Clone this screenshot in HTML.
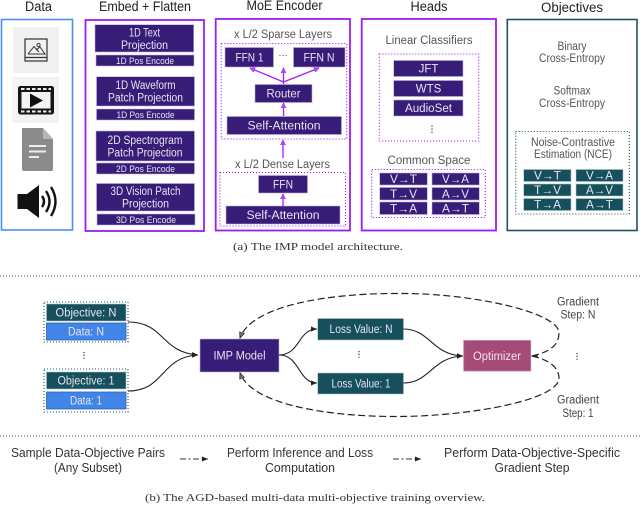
<!DOCTYPE html>
<html><head><meta charset="utf-8">
<style>
html,body{margin:0;padding:0;background:#fff;width:640px;height:508px;overflow:hidden}
svg{display:block}
text{font-family:"Liberation Sans",sans-serif;text-anchor:middle}
.t{font-size:13.5px;fill:#222}
.g{font-size:11.5px;fill:#555}
.w{font-size:11.5px;fill:#e8e4f2}
.s{font-size:9.5px;fill:#e8e4f2}
.k{font-size:12.5px;fill:#333}
.c{font-family:"Liberation Serif",serif;font-size:10.5px;fill:#333}
.p{fill:#371c78;stroke:#b9aed8;stroke-width:.6}
.e{fill:#15505c;stroke:#a9c3c7;stroke-width:.6}
.b{fill:#4285e8;stroke:#2a62b8;stroke-width:.8}
.dp{fill:none;stroke:#a020f0;stroke-width:1.1;stroke-dasharray:1.1 1.9}
.dt{fill:none;stroke:#1f5f6c;stroke-width:1.1;stroke-dasharray:1.1 1.9}
.pa{fill:none;stroke:#a51ff5;stroke-width:1.3}
.bl{fill:none;stroke:#222;stroke-width:1.1}
.da{fill:none;stroke:#222;stroke-width:1.2;stroke-dasharray:7 3.5}
</style></head><body>
<svg width="640" height="508" viewBox="0 0 640 508" xmlns="http://www.w3.org/2000/svg">
<defs>
<marker id="pm" markerWidth="6" markerHeight="6" refX="5" refY="3" orient="auto" markerUnits="userSpaceOnUse"><path d="M0,0.5L5,3L0,5.5z" fill="#b050f5" stroke="#a51ff5" stroke-width=".6"/></marker>
<marker id="bm" markerWidth="7" markerHeight="6" refX="6" refY="3" orient="auto" markerUnits="userSpaceOnUse"><path d="M0,0.5L6,3L0,5.5z" fill="#222"/></marker>
<marker id="om" markerWidth="7" markerHeight="6" refX="6" refY="3" orient="auto" markerUnits="userSpaceOnUse"><path d="M0,0.5L6,3L0,5.5z" fill="#777" stroke="#222" stroke-width=".8"/></marker>
</defs>

<!-- titles -->
<text class="t" x="38.5" y="11" textLength="27" lengthAdjust="spacingAndGlyphs">Data</text>
<text class="t" x="145" y="11" textLength="92" lengthAdjust="spacingAndGlyphs">Embed + Flatten</text>
<text class="t" x="284.5" y="10" textLength="76" lengthAdjust="spacingAndGlyphs">MoE Encoder</text>
<text class="t" x="429" y="11" textLength="37" lengthAdjust="spacingAndGlyphs">Heads</text>
<text class="t" x="572" y="12" textLength="62" lengthAdjust="spacingAndGlyphs">Objectives</text>

<!-- outer boxes -->
<rect x="1.5" y="19.5" width="71" height="210.5" fill="none" stroke="#4a8ff0" stroke-width="1.6"/>
<rect x="85.5" y="20" width="118.5" height="211" fill="none" stroke="#9a1ef0" stroke-width="1.8"/>
<rect x="215.7" y="19" width="134.3" height="211.5" fill="none" stroke="#9a1ef0" stroke-width="1.8"/>
<rect x="361.7" y="19" width="134.3" height="211.5" fill="none" stroke="#9a1ef0" stroke-width="1.8"/>
<rect x="507.3" y="19.5" width="129.7" height="211" fill="none" stroke="#1d5560" stroke-width="1.6"/>

<!-- data icons -->
<rect x="13" y="27" width="46" height="46" fill="#f1f1f1"/>
<rect x="25" y="39" width="22" height="22" fill="none" stroke="#333" stroke-width="1.2"/>
<path d="M25,57.5H47" stroke="#333" stroke-width="1.2"/>
<path d="M28,54L34,46.5L39,52M36,50L40,47L45,54H28" fill="none" stroke="#333" stroke-width="1"/>
<circle cx="38.5" cy="45" r="1.6" fill="none" stroke="#333" stroke-width=".9"/>
<rect x="12" y="77" width="47" height="46" fill="#f3f3f3"/>
<rect x="18" y="86" width="36" height="28.5" rx="2.5" fill="#151515"/>
<rect x="21.5" y="92" width="29" height="16.5" fill="#f3f3f3"/>
<path d="M21,89H51M21,111.5H51" stroke="#eee" stroke-width="2" stroke-dasharray="3.5 2"/>
<path d="M30,93.5L43,100.5L30,107.5z" fill="#111"/>
<path d="M22,128H43L53,139V169a2,2 0 0 1-2,2H24a2,2 0 0 1-2-2z" fill="#8b8b8b"/>
<path d="M43,128L53,139H43z" fill="#b5b5b5"/>
<path d="M29,146H46M29,151.5H46M29,157H39" stroke="#eee" stroke-width="2"/>
<path d="M17.5,194H27L39,185V218L27,209H17.5z" fill="#111"/>
<path d="M42,196Q46,201.5 42,207M46,191Q53,201.5 46,212M51,187Q60,201.5 51,216" fill="none" stroke="#111" stroke-width="2.4"/>

<!-- embed -->
<rect class="p" x="95" y="24.7" width="98.7" height="27.3"/>
<text class="w" x="144.5" y="36.5" textLength="31" lengthAdjust="spacingAndGlyphs">1D Text</text>
<text class="w" x="144.5" y="49" textLength="47" lengthAdjust="spacingAndGlyphs">Projection</text>
<rect class="p" x="96" y="55" width="98" height="11"/>
<text class="s" x="145" y="64" textLength="58" lengthAdjust="spacingAndGlyphs">1D Pos Encode</text>

<rect class="p" x="96.5" y="76.7" width="98" height="29.3"/>
<text class="w" x="145.5" y="89" textLength="60" lengthAdjust="spacingAndGlyphs">1D Waveform</text>
<text class="w" x="145.5" y="101.5" textLength="75" lengthAdjust="spacingAndGlyphs">Patch Projection</text>
<rect class="p" x="96.5" y="109" width="98" height="11"/>
<text class="s" x="145.5" y="118" textLength="58" lengthAdjust="spacingAndGlyphs">1D Pos Encode</text>

<rect class="p" x="96" y="131" width="98.5" height="30"/>
<text class="w" x="145" y="144" textLength="75" lengthAdjust="spacingAndGlyphs">2D Spectrogram</text>
<text class="w" x="145" y="156.5" textLength="75" lengthAdjust="spacingAndGlyphs">Patch Projection</text>
<rect class="p" x="96.5" y="163" width="98" height="11"/>
<text class="s" x="145.5" y="172" textLength="59" lengthAdjust="spacingAndGlyphs">2D Pos Encode</text>

<rect class="p" x="96.5" y="183.5" width="98" height="27.5"/>
<text class="w" x="145.5" y="195" textLength="70" lengthAdjust="spacingAndGlyphs">3D Vision Patch</text>
<text class="w" x="145.5" y="207.5" textLength="47" lengthAdjust="spacingAndGlyphs">Projection</text>
<rect class="p" x="97" y="214" width="98" height="11"/>
<text class="s" x="146" y="223" textLength="60" lengthAdjust="spacingAndGlyphs">3D Pos Encode</text>

<!-- MoE -->
<text class="g" x="283" y="38" textLength="98" lengthAdjust="spacingAndGlyphs">x L/2 Sparse Layers</text>
<rect class="dp" x="221.3" y="43.5" width="125.4" height="95.5"/>
<rect class="p" x="225" y="47.5" width="48.5" height="19.5"/>
<text class="w" x="249.5" y="61.5" textLength="28" lengthAdjust="spacingAndGlyphs">FFN 1</text>
<text class="k" x="283" y="58" style="font-size:9px">···</text>
<rect class="p" x="293.5" y="47.5" width="51.5" height="19.5"/>
<text class="w" x="319" y="61.5" textLength="31" lengthAdjust="spacingAndGlyphs">FFN N</text>
<rect class="p" x="255" y="84.5" width="57" height="18"/>
<text class="w" x="283.5" y="97.5" textLength="34" lengthAdjust="spacingAndGlyphs">Router</text>
<rect class="p" x="227" y="116.5" width="114.5" height="18"/>
<text class="w" x="284" y="129.5" textLength="73" lengthAdjust="spacingAndGlyphs">Self-Attention</text>
<path class="pa" d="M283.5,116V103" marker-end="url(#pm)"/>
<path class="pa" d="M283.5,84V68" marker-end="url(#pm)"/>
<path class="pa" d="M283.5,82L250,68" marker-end="url(#pm)"/>
<path class="pa" d="M283.5,82L319,68" marker-end="url(#pm)"/>
<path class="pa" d="M283,158V140" marker-end="url(#pm)"/>
<text class="g" x="282.5" y="168" textLength="95" lengthAdjust="spacingAndGlyphs">x L/2 Dense Layers</text>
<rect class="dp" x="220" y="172.5" width="125.5" height="53.5"/>
<rect class="p" x="258.5" y="175.5" width="49" height="17.5"/>
<text class="w" x="283" y="188.5" textLength="20" lengthAdjust="spacingAndGlyphs">FFN</text>
<rect class="p" x="226" y="206" width="114" height="18"/>
<text class="w" x="283" y="219" textLength="73" lengthAdjust="spacingAndGlyphs">Self-Attention</text>
<path class="pa" d="M283,206V194" marker-end="url(#pm)"/>

<!-- Heads -->
<text class="g" x="429" y="44" textLength="87" lengthAdjust="spacingAndGlyphs">Linear Classifiers</text>
<rect class="dp" x="379.3" y="54" width="99.4" height="87"/>
<rect class="p" x="393.7" y="60.5" width="69.3" height="16"/>
<text class="w" x="428.5" y="72.5">JFT</text>
<rect class="p" x="393.7" y="80.5" width="69.3" height="16"/>
<text class="w" x="428.5" y="92.5">WTS</text>
<rect class="p" x="393.7" y="100" width="69.3" height="16"/>
<text class="w" x="428.5" y="112" textLength="47" lengthAdjust="spacingAndGlyphs">AudioSet</text>
<path d="M432,125.5V133" stroke="#333" stroke-width="1.2" stroke-dasharray="1.2 1.8"/>
<text class="g" x="429" y="164" textLength="83" lengthAdjust="spacingAndGlyphs">Common Space</text>
<rect class="dp" x="371.7" y="169.5" width="113.6" height="48"/>
<rect class="p" x="379.7" y="173" width="47.6" height="12"/><text class="w" x="403.5" y="183.2" textLength="27" lengthAdjust="spacingAndGlyphs">V→T</text>
<rect class="p" x="379.7" y="187.5" width="47.6" height="12.5"/><text class="w" x="403.5" y="198" textLength="27" lengthAdjust="spacingAndGlyphs">T→V</text>
<rect class="p" x="379.7" y="202" width="47.6" height="12.5"/><text class="w" x="403.5" y="212.5" textLength="27" lengthAdjust="spacingAndGlyphs">T→A</text>
<rect class="p" x="432" y="173" width="47.3" height="12"/><text class="w" x="455.5" y="183.2" textLength="27" lengthAdjust="spacingAndGlyphs">V→A</text>
<rect class="p" x="432" y="187.5" width="47.3" height="12.5"/><text class="w" x="455.5" y="198" textLength="27" lengthAdjust="spacingAndGlyphs">A→V</text>
<rect class="p" x="432" y="202" width="47.3" height="12.5"/><text class="w" x="455.5" y="212.5" textLength="27" lengthAdjust="spacingAndGlyphs">A→T</text>

<!-- Objectives -->
<text class="g" x="572" y="50" textLength="29" lengthAdjust="spacingAndGlyphs">Binary</text>
<text class="g" x="572" y="62" textLength="66" lengthAdjust="spacingAndGlyphs">Cross-Entropy</text>
<text class="g" x="572" y="94.5" textLength="37" lengthAdjust="spacingAndGlyphs">Softmax</text>
<text class="g" x="572" y="107" textLength="66" lengthAdjust="spacingAndGlyphs">Cross-Entropy</text>
<rect class="dt" x="515.7" y="131.5" width="113.6" height="82.5"/>
<text class="g" x="573" y="146" textLength="84" lengthAdjust="spacingAndGlyphs">Noise-Contrastive</text>
<text class="g" x="573" y="158" textLength="78" lengthAdjust="spacingAndGlyphs">Estimation (NCE)</text>
<rect class="e" x="523.7" y="169.5" width="47.3" height="12"/><text class="w" x="547.5" y="179.7" textLength="27" lengthAdjust="spacingAndGlyphs">V→T</text>
<rect class="e" x="523.7" y="184" width="47.3" height="12"/><text class="w" x="547.5" y="194.2" textLength="27" lengthAdjust="spacingAndGlyphs">T→V</text>
<rect class="e" x="523.7" y="198.5" width="47.3" height="12"/><text class="w" x="547.5" y="208.7" textLength="27" lengthAdjust="spacingAndGlyphs">T→A</text>
<rect class="e" x="576" y="169.5" width="47" height="12"/><text class="w" x="599.5" y="179.7" textLength="27" lengthAdjust="spacingAndGlyphs">V→A</text>
<rect class="e" x="576" y="184" width="47" height="12"/><text class="w" x="599.5" y="194.2" textLength="27" lengthAdjust="spacingAndGlyphs">A→V</text>
<rect class="e" x="576" y="198.5" width="47" height="12"/><text class="w" x="599.5" y="208.7" textLength="27" lengthAdjust="spacingAndGlyphs">A→T</text>

<text class="c" x="318" y="250" textLength="170" lengthAdjust="spacingAndGlyphs">(a) The IMP model architecture.</text>
<path d="M0,276H640" stroke="#444" stroke-width="1" stroke-dasharray="1 2"/>

<!-- lower diagram -->
<rect class="dt" x="44" y="302" width="84" height="40"/>
<rect class="e" x="46.5" y="304" width="79.5" height="17"/>
<text class="w" x="86" y="316.5" textLength="61" lengthAdjust="spacingAndGlyphs">Objective: N</text>
<rect class="b" x="46.5" y="323" width="79.5" height="17"/>
<text class="w" x="86" y="335.5" textLength="36" lengthAdjust="spacingAndGlyphs">Data: N</text>
<path d="M84,352V359" stroke="#333" stroke-width="1.2" stroke-dasharray="1.2 1.6"/>
<rect class="dt" x="44" y="369" width="84" height="43"/>
<rect class="e" x="46.5" y="372" width="79.5" height="17"/>
<text class="w" x="86" y="384.5" textLength="57" lengthAdjust="spacingAndGlyphs">Objective: 1</text>
<rect class="b" x="46.5" y="392" width="79.5" height="17"/>
<text class="w" x="86" y="404.5" textLength="32" lengthAdjust="spacingAndGlyphs">Data: 1</text>

<rect class="p" x="200" y="339" width="79" height="33"/>
<text class="w" x="239.5" y="359.5" textLength="52" lengthAdjust="spacingAndGlyphs">IMP Model</text>
<rect class="e" x="317.7" y="318.5" width="85.8" height="21.5"/>
<text class="w" x="361" y="333" textLength="63" lengthAdjust="spacingAndGlyphs">Loss Value: N</text>
<path d="M359,351V359" stroke="#333" stroke-width="1.2" stroke-dasharray="1.2 1.6"/>
<rect class="e" x="317.7" y="373" width="85.8" height="21"/>
<text class="w" x="361" y="387.5" textLength="59" lengthAdjust="spacingAndGlyphs">Loss Value: 1</text>
<rect x="463.7" y="340.5" width="67" height="30.5" fill="#a64a78" stroke="#c27da0" stroke-width=".8"/>
<text class="w" x="497" y="360" textLength="48" lengthAdjust="spacingAndGlyphs" style="fill:#f2e4ec">Optimizer</text>
<path d="M577,353V361" stroke="#333" stroke-width="1.2" stroke-dasharray="1.2 1.6"/>

<text class="g" x="578" y="305.5" textLength="42" lengthAdjust="spacingAndGlyphs" style="fill:#444">Gradient</text>
<text class="g" x="578" y="318.5" textLength="35" lengthAdjust="spacingAndGlyphs" style="fill:#444">Step: N</text>
<text class="g" x="578" y="403.5" textLength="42" lengthAdjust="spacingAndGlyphs" style="fill:#444">Gradient</text>
<text class="g" x="578" y="417" textLength="31" lengthAdjust="spacingAndGlyphs" style="fill:#444">Step: 1</text>

<path class="bl" d="M128,322C165,322 160,352 198,355" marker-end="url(#bm)"/>
<path class="bl" d="M128,391C165,391 160,357 198,355" marker-end="url(#bm)"/>
<path class="bl" d="M279,355C300,355 298,329 317,329" marker-end="url(#bm)"/>
<path class="bl" d="M279,355C300,355 298,383 317,383" marker-end="url(#bm)"/>
<path class="bl" d="M403.5,329C430,329 432,355 463,356" marker-end="url(#bm)"/>
<path class="bl" d="M403.5,383C430,383 432,357 463,356" marker-end="url(#bm)"/>
<path class="da" d="M532,356C550,352 559,345 559,333C559,312 470,293 400,293.5C330,293 252,305 240,338" marker-end="url(#om)"/>
<path class="da" d="M532,356C550,360 559,368 559,378C559,400 470,416 400,416.5C330,417 252,405 240,373" marker-end="url(#om)"/>
<path d="M538,356L531.5,356" stroke="#222" stroke-width="1"/>

<!-- legend -->
<path d="M0,436H640" stroke="#444" stroke-width="1" stroke-dasharray="1 2"/>
<text class="k" x="88" y="457" textLength="154" lengthAdjust="spacingAndGlyphs">Sample Data-Objective Pairs</text>
<text class="k" x="88" y="472" textLength="68" lengthAdjust="spacingAndGlyphs">(Any Subset)</text>
<path d="M180,459H208" stroke="#333" stroke-width="1" stroke-dasharray="6 2.5 2 2.5" marker-end="url(#bm)"/>
<text class="k" x="300" y="457" textLength="146" lengthAdjust="spacingAndGlyphs">Perform Inference and Loss</text>
<text class="k" x="300" y="472" textLength="70" lengthAdjust="spacingAndGlyphs">Computation</text>
<path d="M393,459H421" stroke="#333" stroke-width="1" stroke-dasharray="6 2.5 2 2.5" marker-end="url(#bm)"/>
<text class="k" x="532" y="457" textLength="176" lengthAdjust="spacingAndGlyphs">Perform Data-Objective-Specific</text>
<text class="k" x="532" y="472" textLength="75" lengthAdjust="spacingAndGlyphs">Gradient Step</text>
<text class="c" x="315" y="501" textLength="340" lengthAdjust="spacingAndGlyphs">(b) The AGD-based multi-data multi-objective training overview.</text>
</svg>
</body></html>
